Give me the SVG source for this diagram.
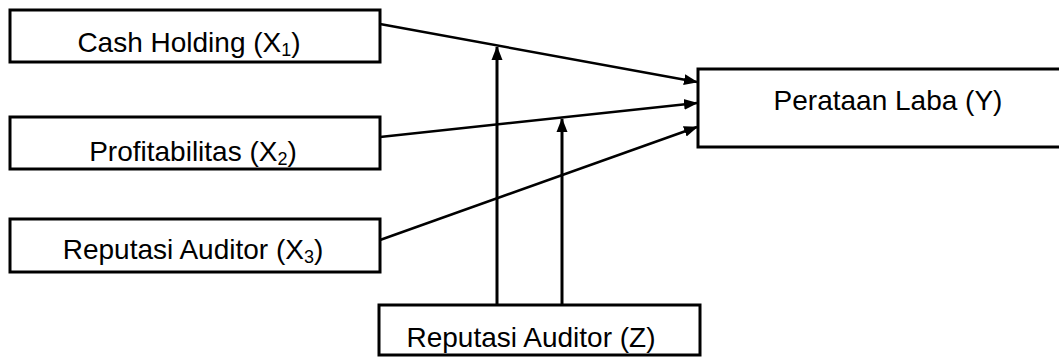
<svg xmlns="http://www.w3.org/2000/svg" width="1059" height="358" viewBox="0 0 1059 358">
  <style>
    .box { fill: #ffffff; stroke: #000000; stroke-width: 3; }
    .lbl { font-family: "Liberation Sans", Arial, sans-serif; font-size: 28px; fill: #000000; text-anchor: middle; }
    .sub { font-size: 18px; }
    .link { stroke: #000000; stroke-width: 2.5; fill: none; marker-end: url(#head); }
    .mod { stroke-width: 3; }
  </style>
  <defs>
    <marker id="head" markerUnits="userSpaceOnUse" markerWidth="14" markerHeight="12" refX="13" refY="6" orient="auto">
      <path d="M0,0.5 L14,6 L0,11.5 Z" fill="#000000"/>
    </marker>
  </defs>

  <rect width="1059" height="358" fill="#ffffff"/>

  <g id="connectors">
    <line class="link" x1="380" y1="24" x2="697" y2="82"/>
    <line class="link" x1="380" y1="137" x2="697" y2="103"/>
    <line class="link" x1="380" y1="240" x2="697" y2="127"/>
    <line class="link mod" x1="497" y1="305" x2="497" y2="47"/>
    <line class="link mod" x1="562" y1="305" x2="562" y2="119"/>
  </g>

  <g id="x1">
    <rect class="box" x="10" y="10" width="370" height="52"/>
    <text class="lbl" x="189" y="52">Cash Holding (X<tspan class="sub" dy="4">1</tspan><tspan dy="-4">)</tspan></text>
  </g>

  <g id="x2">
    <rect class="box" x="10" y="117" width="370" height="52"/>
    <text class="lbl" x="193" y="161">Profitabilitas (X<tspan class="sub" dy="4">2</tspan><tspan dy="-4">)</tspan></text>
  </g>

  <g id="x3">
    <rect class="box" x="10" y="219" width="370" height="53"/>
    <text class="lbl" x="193" y="259">Reputasi Auditor (X<tspan class="sub" dy="4">3</tspan><tspan dy="-4">)</tspan></text>
  </g>

  <g id="y">
    <rect class="box" x="698" y="69" width="372" height="78"/>
    <text class="lbl" x="888" y="110">Perataan Laba (Y)</text>
  </g>

  <g id="z">
    <rect class="box" x="379" y="305" width="321" height="50"/>
    <text class="lbl" x="531" y="347">Reputasi Auditor (Z)</text>
  </g>
</svg>
